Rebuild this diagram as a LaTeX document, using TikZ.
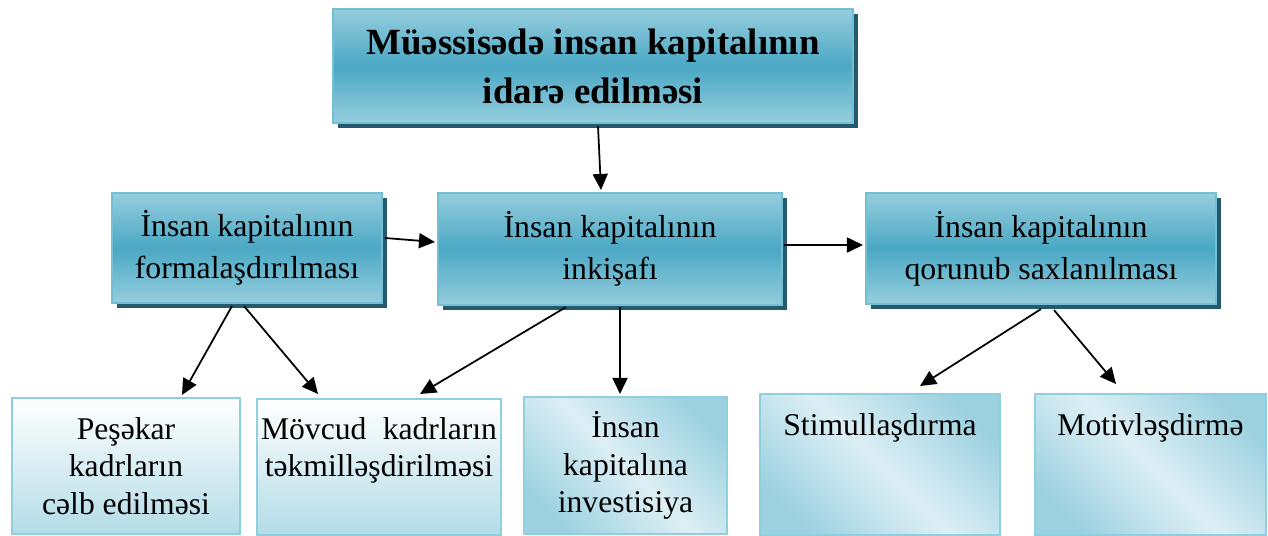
\documentclass[tikz,border=0pt]{standalone}
\usepackage{fontspec}
\setmainfont{Liberation Serif}
\usetikzlibrary{arrows.meta,calc,shadows}
\definecolor{boxlight}{HTML}{96CDDD}
\definecolor{boxmid}{HTML}{4AA8C5}
\definecolor{boxedge}{HTML}{74BFD3}
\definecolor{boxshade}{HTML}{245A6B}
\definecolor{paleedge}{HTML}{8FCFE0}
\definecolor{palelow}{HTML}{B3DCE7}
\definecolor{bandD}{HTML}{9CD1E0}
\definecolor{bandL}{HTML}{DDEFF5}
\pgfdeclarehorizontalshading{diagband}{100bp}{color(0bp)=(bandD); color(24bp)=(bandD); color(50bp)=(bandL); color(76bp)=(bandD); color(100bp)=(bandD)}

\begin{document}
\begin{tikzpicture}[x=0.02cm,y=-0.02cm,
  hbox/.style={draw=boxedge,line width=1.2pt,top color=boxlight,bottom color=boxlight,middle color=boxmid,
    drop shadow={shadow xshift=0.1cm,shadow yshift=-0.1cm,shadow scale=1,fill=boxshade,opacity=1},
    align=center,inner sep=0pt},
  sbox/.style={draw=paleedge,line width=1.2pt,align=center,inner sep=0pt,font=\fontsize{18pt}{21.5pt}\selectfont},
  fadebox/.style={sbox,top color=white,bottom color=palelow},
  bandbox/.style={sbox,shade,shading=diagband,shading angle=45},
  arr/.style={line width=1pt,-{Triangle[length=0.32cm,width=0.3cm]}}]
  \useasboundingbox (0,0) rectangle (1268,535);
  % top level
  \node[hbox,minimum width=10.4cm,minimum height=2.28cm,font=\fontsize{21pt}{27.8pt}\selectfont\bfseries] (mgmt) at (593,66) {Müəssisədə insan kapitalının\\idarə edilməsi};
  % middle row
  \node[hbox,minimum width=5.4cm,minimum height=2.2cm,font=\fontsize{18.1pt}{24pt}\selectfont] (form) at (247,248) {İnsan kapitalının\\formalaşdırılması};
  \node[hbox,minimum width=6.88cm,minimum height=2.24cm,font=\fontsize{18.1pt}{24pt}\selectfont] (dev) at (610,249) {İnsan kapitalının\\inkişafı};
  \node[hbox,minimum width=7cm,minimum height=2.22cm,font=\fontsize{18.1pt}{24pt}\selectfont] (keep) at (1041,248.5) {İnsan kapitalının\\qorunub saxlanılması};
  % bottom row
  \node[fadebox,minimum width=4.56cm,minimum height=2.72cm] (pro) at (126,466) {Peşəkar\\kadrların\\cəlb edilməsi};
  \node[fadebox,anchor=north,text width=4.72cm,minimum width=4.88cm,text height=0.8cm,text depth=1.92cm] (upg) at (379,398) {Mövcud\hfill kadrların\\təkmilləşdirilməsi};
  \node[bandbox,minimum width=4.06cm,minimum height=2.74cm] (inv) at (625.5,465.5) {İnsan\\kapitalına\\investisiya};
  \node[bandbox,anchor=north,minimum width=4.8cm,text height=0.82cm,text depth=2cm] (stim) at (880,393) {Stimullaşdırma};
  \node[bandbox,anchor=north,minimum width=4.62cm,text height=0.82cm,text depth=2cm] (motiv) at (1150.5,393) {Motivləşdirmə};
  % connectors
  \draw[arr] ([xshift=0.1cm,yshift=-0.04cm]mgmt.south) -- ([xshift=-0.18cm,yshift=0.04cm]dev.north);
  \draw[arr] ([xshift=0.04cm,yshift=0.2cm]form.east) -- ([xshift=-0.04cm,yshift=0.14cm]dev.west);
  \draw[arr] ([xshift=0.02cm,yshift=0.08cm]dev.east) -- ([xshift=-0.04cm,yshift=0.07cm]keep.west);
  \draw[arr] ([xshift=-0.3cm,yshift=-0.04cm]form.south) -- ([xshift=1.12cm,yshift=0.04cm]pro.north);
  \draw[arr] ([xshift=-0.06cm,yshift=-0.04cm]form.south) -- ([xshift=-1.22cm,yshift=0.08cm]upg.north);
  \draw[arr] ([xshift=-0.88cm,yshift=-0.02cm]dev.south) -- ([xshift=0.82cm,yshift=0.08cm]upg.north);
  \draw[arr] ([xshift=0.2cm,yshift=-0.02cm]dev.south) -- ([xshift=-0.11cm,yshift=0.04cm]inv.north);
  \draw[arr] ([yshift=-0.08cm]keep.south) -- ([xshift=0.8cm,yshift=0.14cm]stim.north);
  \draw[arr] ([xshift=0.26cm,yshift=-0.1cm]keep.south) -- ([xshift=-0.69cm,yshift=0.18cm]motiv.north);
\end{tikzpicture}
\end{document}
